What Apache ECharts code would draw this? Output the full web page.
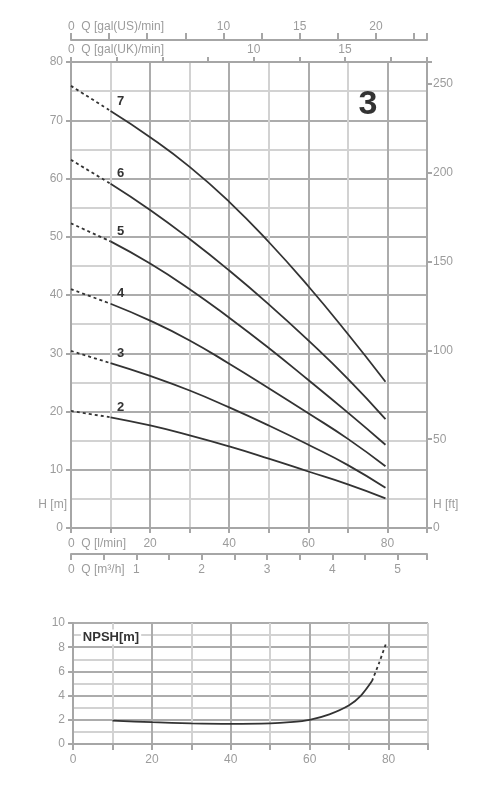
<!DOCTYPE html>
<html>
<head>
<meta charset="utf-8">
<script src="https://cdn.jsdelivr.net/npm/echarts@6/dist/echarts.min.js"></script>
<style>
  html,body{margin:0;padding:0;background:#fff;}
  #chart{width:500px;height:800px;}
</style>
</head>
<body>
<div id="chart"></div>
<script>
// flow in l/min, dashed part runs from the first to the second point
var flowLmin = [0, 10, 20, 30, 40, 50, 60, 70, 79.5];
// head in m for each stage count
var stages = ['2', '3', '4', '5', '6', '7'];
var head2 = [20.1, 19.0, 17.6, 15.9, 14.0, 11.9, 9.7, 7.5, 5.1];
var head3 = [30.4, 28.3, 26.1, 23.6, 20.7, 17.6, 14.3, 10.8, 6.9];
var head4 = [41.0, 38.5, 35.6, 32.2, 28.2, 24.0, 19.7, 15.3, 10.6];
var head5 = [52.3, 49.2, 45.4, 41.0, 36.1, 30.9, 25.4, 19.8, 14.3];
var head6 = [63.2, 59.1, 54.6, 49.6, 44.2, 38.4, 32.2, 25.6, 18.7];
var head7 = [75.9, 71.6, 67.1, 62.0, 56.0, 49.1, 41.5, 33.3, 25.1];
var heads = [head2, head3, head4, head5, head6, head7];

// NPSH curve (solid) and its dashed end
var npshFlow = [10, 20, 30, 40, 50, 55, 60, 65, 70, 73, 75.8];
var npshVal = [1.93, 1.80, 1.70, 1.66, 1.70, 1.80, 2.0, 2.45, 3.2, 4.0, 5.2];
var npshDashFlow = [75.8, 77.6, 79.4];
var npshDashVal = [5.2, 6.7, 8.35];

// labelled ticks
var lminLabels = [0, 20, 40, 60, 80];
var m3hLabels = [0, 1, 2, 3, 4, 5];
var galUSLabels = [0, 10, 15, 20];
var galUKLabels = [0, 10, 15];
var headMLabels = [0, 10, 20, 30, 40, 50, 60, 70, 80];
var headFtLabels = [0, 50, 100, 150, 200, 250];
var npshLabels = [0, 2, 4, 6, 8, 10];

// axis ends, as printed on the sheet (l/min axis runs 0..90)
var QMAX = 90;
var M3H_MAX = 5.45;
var GALUS_MAX = 23.35;
var GALUK_MAX = 19.49;

var GRAY = '#9c9c9c';
var AXIS = '#a6a6a6';
var MAJ = '#acacac';
var MIN = '#d2d2d2';
var INK = '#333';
var FONT = 'Liberation Sans, Arial, sans-serif';

var measureCtx = document.createElement('canvas').getContext('2d');
measureCtx.font = '12px "Liberation Sans", Arial, sans-serif';

function fmt(labels, first) {
  return function (v) {
    var r = Math.round(v * 100) / 100;
    if (labels.indexOf(r) < 0) return '';
    if (r === 0 && first) return '{p|}{z|0  ' + first + '}';
    return String(r);
  };
}

function label(labels, first, margin) {
  var rich = {};
  if (first) {
    // blank lead so the centred label starts at the zero tick
    var w = measureCtx.measureText('0  ' + first).width;
    rich = {
      p: {width: Math.max(w - 6, 0)},
      z: {color: GRAY, fontSize: 12, fontFamily: FONT}
    };
  }
  return {
    show: true, margin: margin, interval: 0,
    showMinLabel: true, showMaxLabel: true,
    color: GRAY, fontSize: 12, fontFamily: FONT,
    formatter: fmt(labels, first), rich: rich
  };
}

function line() { return {show: true, onZero: false, lineStyle: {color: AXIS, width: 2}}; }
function tick(len) { return {show: true, length: len, lineStyle: {color: AXIS, width: 2}}; }

var series = [];
heads.forEach(function (h, i) {
  series.push({
    type: 'line', xAxisIndex: 0, yAxisIndex: 0, smooth: true, symbol: 'none',
    lineStyle: {color: INK, width: 1.8, type: [3, 3]},
    data: flowLmin.slice(0, 2).map(function (q, j) { return [q, h[j]]; })
  });
  series.push({
    type: 'line', xAxisIndex: 0, yAxisIndex: 0, smooth: true, symbol: 'none',
    lineStyle: {color: INK, width: 1.8},
    data: flowLmin.slice(1).map(function (q, j) { return [q, h[j + 1]]; }),
    markPoint: {
      symbol: 'circle', symbolSize: 1, itemStyle: {color: 'rgba(0,0,0,0)'},
      label: {show: true, position: 'inside', offset: [10, -10], color: INK,
        fontSize: 13, fontWeight: 'bold', fontFamily: FONT, formatter: stages[i]},
      data: [{coord: [flowLmin[1], h[1]]}]
    }
  });
});
series.push({
  type: 'line', xAxisIndex: 4, yAxisIndex: 2, smooth: 0.3, symbol: 'none',
  lineStyle: {color: INK, width: 1.8},
  data: npshFlow.map(function (q, j) { return [q, npshVal[j]]; })
});
series.push({
  type: 'line', xAxisIndex: 4, yAxisIndex: 2, smooth: 0.3, symbol: 'none',
  lineStyle: {color: INK, width: 1.8, type: [3, 3]},
  data: npshDashFlow.map(function (q, j) { return [q, npshDashVal[j]]; })
});

var chart = echarts.init(document.getElementById('chart'));
chart.setOption({
  animation: false,
  backgroundColor: '#fff',
  grid: [
    {left: 71, right: 73, top: 62, bottom: 272, outerBoundsMode: 'none'},
    {left: 73, right: 72, top: 623, bottom: 56, outerBoundsMode: 'none'}
  ],
  xAxis: [
    {
      gridIndex: 0, type: 'value', position: 'bottom', min: 0, max: QMAX, interval: 10,
      axisLine: line(), axisTick: tick(5), axisLabel: label(lminLabels, 'Q [l/min]', 10),
      splitLine: {show: true, lineStyle: {color: [MAJ, MIN], width: 2}}
    },
    {
      gridIndex: 0, type: 'value', position: 'bottom', offset: 26, min: 0, max: M3H_MAX, interval: 0.5,
      axisLine: line(), axisTick: tick(6), axisLabel: label(m3hLabels, 'Q [m³/h]', 10),
      splitLine: {show: false}
    },
    {
      gridIndex: 0, type: 'value', position: 'top', offset: 22, min: 0, max: GALUS_MAX, interval: 2.5,
      axisLine: line(), axisTick: tick(7), axisLabel: label(galUSLabels, 'Q [gal(US)/min]', 7),
      splitLine: {show: false}
    },
    {
      gridIndex: 0, type: 'value', position: 'top', offset: 0, min: 0, max: GALUK_MAX, interval: 2.5,
      axisLine: line(), axisTick: tick(5), axisLabel: label(galUKLabels, 'Q [gal(UK)/min]', 6),
      splitLine: {show: false}
    },
    {
      gridIndex: 1, type: 'value', position: 'bottom', min: 0, max: QMAX, interval: 10,
      axisLine: line(), axisTick: tick(6), axisLabel: label(lminLabels, null, 10),
      splitLine: {show: true, lineStyle: {color: [MAJ, MIN], width: 2}}
    }
  ],
  yAxis: [
    {
      gridIndex: 0, type: 'value', position: 'left', min: 0, max: 80, interval: 10,
      axisLine: line(), axisTick: tick(5), axisLabel: label(headMLabels, null, 8),
      splitLine: {show: true, lineStyle: {color: MAJ, width: 2}},
      minorTick: {show: false, splitNumber: 2},
      minorSplitLine: {show: true, lineStyle: {color: MIN, width: 2}}
    },
    {
      gridIndex: 0, type: 'value', position: 'right', min: 0, max: 80 / 0.3048, interval: 50,
      axisLine: line(), axisTick: tick(5), axisLabel: label(headFtLabels, null, 6),
      splitLine: {show: false}
    },
    {
      gridIndex: 1, type: 'value', position: 'left', min: 0, max: 10, interval: 2,
      axisLine: line(), axisTick: tick(5), axisLabel: label(npshLabels, null, 8),
      splitLine: {show: true, lineStyle: {color: MAJ, width: 2}},
      minorTick: {show: false, splitNumber: 2},
      minorSplitLine: {show: true, lineStyle: {color: MIN, width: 2}}
    }
  ],
  graphic: [
    {type: 'text', z: 100, x: 368, y: 105, style: {text: '3', fill: INK, fontSize: 34, fontWeight: 'bold', fontFamily: FONT, align: 'center', verticalAlign: 'middle'}},
    {type: 'text', z: 100, x: 67, y: 505, style: {text: 'H [m]', fill: GRAY, fontSize: 12, fontFamily: FONT, align: 'right', verticalAlign: 'middle'}},
    {type: 'text', z: 100, x: 433, y: 505, style: {text: 'H [ft]', fill: GRAY, fontSize: 12, fontFamily: FONT, align: 'left', verticalAlign: 'middle'}},
    {type: 'text', z: 100, x: 111, y: 637, style: {text: 'NPSH[m]', fill: INK, fontSize: 13, fontWeight: 'bold', fontFamily: FONT, align: 'center', verticalAlign: 'middle', backgroundColor: '#fff', padding: [1, 2]}}
  ],
  series: series
});
</script>
</body>
</html>
